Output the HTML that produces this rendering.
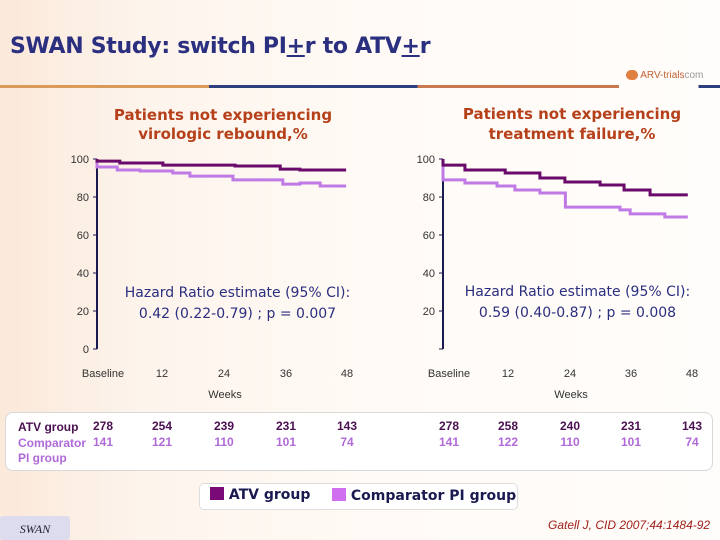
<!DOCTYPE html>
<html><head><meta charset="utf-8"><style>
body{margin:0;}
#root{position:relative;width:720px;height:540px;overflow:hidden;background:linear-gradient(90deg,#fbe9da 0%,#fdf4ec 20%,#fffaf5 50%,#fffdfb 100%);font-family:"Liberation Sans",sans-serif;}
.abs{position:absolute;}
.t{font-family:"DejaVu Sans","Liberation Sans",sans-serif;}
</style></head><body>
<div id="root">
<div class="abs t" style="left:10px;top:34px;font-size:22px;color:#2b2f7f;font-weight:bold;letter-spacing:-0.3px;">SWAN Study: switch PI<u>+</u>r to ATV<u>+</u>r</div>
<div class="abs" style="left:0;top:85px;width:720px;height:3px;background:linear-gradient(90deg,#d99a5a 0,#d99a5a 29%,#2d3f7f 29%,#2d3f7f 58%,#c8794f 58%,#c8794f 86%,transparent 86%,transparent 97%,#2d3f7f 97%);"></div>
<div class="abs" style="left:626px;top:70px;font-size:10px;color:#c26030;"><span style="display:inline-block;width:12px;height:10px;border-radius:5px;background:#e08040;vertical-align:middle;"></span> ARV-trials<span style="color:#999">com</span></div>
<div class="abs t" style="left:93px;top:106px;width:260px;text-align:center;font-size:15px;line-height:19px;color:#b5401a;font-weight:600;">Patients not experiencing<br>virologic rebound,%</div>
<div class="abs t" style="left:442px;top:104px;width:260px;text-align:center;font-size:15px;line-height:20px;color:#b5401a;font-weight:600;">Patients not experiencing<br>treatment failure,%</div>
<svg class="abs" style="left:0;top:0" width="720" height="540" id="chart"></svg>
<div class="abs t" style="left:100px;top:283px;width:275px;text-align:center;font-size:14px;line-height:21px;color:#2b2f7f;">Hazard Ratio estimate (95% CI):<br>0.42 (0.22-0.79) ; p = 0.007</div>
<div class="abs t" style="left:440px;top:282px;width:275px;text-align:center;font-size:14px;line-height:21px;color:#2b2f7f;">Hazard Ratio estimate (95% CI):<br>0.59 (0.40-0.87) ; p = 0.008</div>
<div class="abs" style="left:5px;top:412px;width:706px;height:57px;background:#fff;border:1px solid #d8d8d8;border-radius:8px;"></div>
<div class="abs" style="left:18px;top:420px;font-size:12px;color:#4a1050;font-weight:bold;">ATV group</div>
<div class="abs" style="left:18px;top:436px;font-size:12px;line-height:15px;color:#b06ad8;font-weight:bold;">Comparator<br>PI group</div>
<div class="abs" style="left:199px;top:483px;width:317px;height:25px;border:1px solid #ddd;border-radius:5px;background:#fff;"></div>
<div class="abs t" style="left:210px;top:487px;font-size:14px;color:#1a1a50;font-weight:bold;"><span style="display:inline-block;width:14px;height:13px;background:#7a0a78;vertical-align:-1px;"></span> ATV group</div>
<div class="abs t" style="left:332px;top:488px;font-size:14px;color:#1a1a50;font-weight:bold;"><span style="display:inline-block;width:14px;height:13px;background:#d070f0;vertical-align:-1px;"></span> Comparator PI group</div>
<div class="abs" style="left:0;top:516px;width:70px;height:24px;background:#dcdcee;border-radius:3px;font-family:'Liberation Serif',serif;font-style:italic;font-size:12px;color:#223;text-align:center;line-height:26px;">SWAN</div>
<div class="abs" style="left:548px;top:518px;font-size:12px;font-style:italic;color:#a0201a;">Gatell J, CID 2007;44:1484-92</div>
</div>
<script>
const weekTicks=[0,12,24,36,48];
const weekLabels=["Baseline","12","24","36","48"];
const yTicks=[0,20,40,60,80,100];
const lWeeksAtv=[0,4.4,12.7,26.6,35.3,39.1];
const lValsAtv=[98.9,97.9,96.8,96.3,94.7,94.2];
const lWeeksCmp=[0,3.9,8.3,14.6,17.9,26.2,35.8,39.1,43];
const lValsCmp=[95.8,94.2,93.7,92.6,91,89,86.8,87.4,85.8];
const rWeeksAtv=[0,4.3,12.2,19,23.9,30.8,35.5,40.6];
const rValsAtv=[96.8,94.2,92.6,90,87.9,86.3,83.7,81.1];
const rWeeksCmp=[0,4.3,10.6,14.1,19,24,34.7,36.7,43.5];
const rValsCmp=[89,87.4,85.8,83.7,82.1,74.7,73.2,71.1,69.5];
const riskAtvL=[278,254,239,231,143];
const riskCmpL=[141,121,110,101,74];
const riskAtvR=[278,258,240,231,143];
const riskCmpR=[141,122,110,101,74];

const svg=document.getElementById('chart');
const NS='http://www.w3.org/2000/svg';
function mk(tag,attrs){const e=document.createElementNS(NS,tag);for(const k in attrs)e.setAttribute(k,attrs[k]);svg.appendChild(e);return e;}
const panels=[
 {x0:97,k:5.19,lblX:[103,162,224,286,347],side:'left',series:[[lWeeksCmp,lValsCmp,'#c07ae6'],[lWeeksAtv,lValsAtv,'#6a0a6a']],ra:riskAtvL,rc:riskCmpL,weeksX:225},
 {x0:443,k:5.1,lblX:[449,508,570,631,692],side:'right',series:[[rWeeksCmp,rValsCmp,'#c07ae6'],[rWeeksAtv,rValsAtv,'#6a0a6a']],ra:riskAtvR,rc:riskCmpR,weeksX:571}
];
const yOf=v=>159+(100-v)*1.9;
panels.forEach(p=>{
 const ax=mk('line',{x1:p.x0,x2:p.x0,y1:yOf(100),y2:yOf(0),stroke:'#1a1a50','stroke-width':2});
 
 
 yTicks.forEach(v=>{
  const tk=mk('line',{x1:p.x0-4,x2:p.x0,y1:yOf(v),y2:yOf(v),stroke:'#1a1a50','stroke-width':1});
  
  
  if(p.side==='left'||v>0){
  const t=mk('text',{x:p.x0-8,y:yOf(v)+4,'text-anchor':'end','font-size':11,fill:'#333','font-family':'Liberation Sans'});
  t.textContent=v;
  
  }
 });
 weekTicks.forEach((w,i)=>{
  const t=mk('text',{x:p.lblX[i],y:377,'text-anchor':'middle','font-size':11,fill:'#333','font-family':'Liberation Sans'});
  t.textContent=weekLabels[i];
  
  
 });
 const wt=mk('text',{x:p.weeksX,y:398,'text-anchor':'middle','font-size':11,fill:'#333','font-family':'Liberation Sans'});
 wt.textContent='Weeks';
 
 
 p.series.forEach(([ws,vs,c],si)=>{
  const xOf=w=>p.x0+w*p.k;
  let d='M'+xOf(0)+','+yOf(100);
  ws.forEach((w,i)=>{d+=' L'+xOf(w)+','+yOf(vs[i]);const nw=i<ws.length-1?ws[i+1]:48;d+=' L'+xOf(nw)+','+yOf(vs[i]);});
  const pth=mk('path',{d:d,fill:'none',stroke:c,'stroke-width':3});
  
  
 });
 p.ra.forEach((n,i)=>{
  const t=mk('text',{x:p.lblX[i],y:430,'text-anchor':'middle','font-size':12,'font-weight':'bold',fill:'#4a1050','font-family':'Liberation Sans'});
  t.textContent=n;
  
  
 });
 p.rc.forEach((n,i)=>{
  const t=mk('text',{x:p.lblX[i],y:446,'text-anchor':'middle','font-size':12,'font-weight':'bold',fill:'#b06ad8','font-family':'Liberation Sans'});
  t.textContent=n;
  
  
 });
});
document.getElementById('root').appendChild(svg);
</script>
</body></html>
